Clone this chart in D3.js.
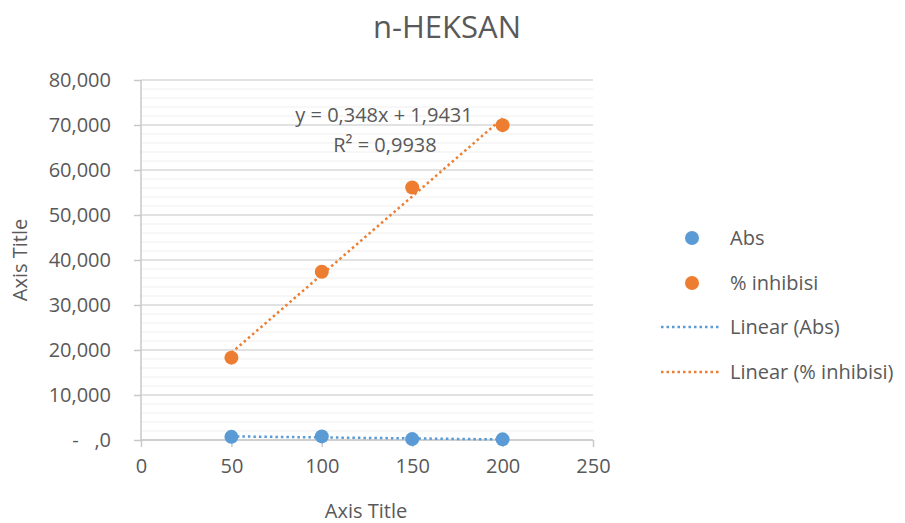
<!DOCTYPE html>
<html>
<head>
<style>
    body { margin: 0; background: #fff; }
    svg { display: block; font-family: "Open Sans", "Noto Sans", sans-serif; }
    .tick text { fill: #595959; font-size: 20px; font-family: "Open Sans", "Noto Sans", sans-serif; white-space: pre; }
</style>
</head>
<body>
<svg width="905" height="523"></svg>
<script src="https://d3js.org/d3.v7.min.js"></script>
<script>
    // data
    var xVals = [50, 100, 150, 200];
    var absVals = [0.7, 0.8, 0.2, 0.15];
    var inhibisiVals = [18.3, 37.4, 56.1, 69.97];
    var xTicks = [0, 50, 100, 150, 200, 250];
    var yTicks = [0, 10, 20, 30, 40, 50, 60, 70, 80];
    var seriesNames = ["Abs", "% inhibisi"];
    var trendNames = ["Linear (Abs)", "Linear (% inhibisi)"];
    var colors = ["#5b9bd5", "#ed7d31"];
    var eqText = ["y = 0,348x + 1,9431", "R\u00b2 = 0,9938"];

    var svg = d3.select("svg");
    var grey = "#595959";

    var x = d3.scaleLinear().domain([0, 250]).range([141, 593]);
    var y = d3.scaleLinear().domain([0, 80]).range([440, 80]);

    // minor + major gridlines
    var minor = d3.range(0, 80.001, 2);
    svg.append("g").selectAll("line").data(minor).enter().append("line")
        .attr("x1", x(0)).attr("x2", x(250))
        .attr("y1", function (d) { return y(d); }).attr("y2", function (d) { return y(d); })
        .attr("stroke", function (d) { return d % 10 === 0 ? "#d9d9d9" : "#efefef"; })
        .attr("stroke-width", function (d) { return d % 10 === 0 ? 1.5 : 1; });

    // axes
    var fmtY = function (d) { return d === 0 ? "-   ,0" : d + ",000"; };
    svg.append("g").attr("transform", "translate(" + x(0) + ",0)")
        .call(d3.axisLeft(y).tickValues(yTicks).tickFormat(fmtY).tickSize(7).tickPadding(23));
    svg.append("g").attr("transform", "translate(0," + y(0) + ")")
        .call(d3.axisBottom(x).tickValues(xTicks).tickSize(7).tickPadding(12));
    svg.selectAll(".domain").remove();
    svg.selectAll(".tick line").attr("stroke", "#c8c8c8").attr("stroke-width", 1.5);
    svg.append("line").attr("x1", x(0)).attr("x2", x(0)).attr("y1", y(80)).attr("y2", y(0))
        .attr("stroke", "#c8c8c8").attr("stroke-width", 1.5);
    svg.append("line").attr("x1", x(0)).attr("x2", x(250)).attr("y1", y(0)).attr("y2", y(0))
        .attr("stroke", "#c8c8c8").attr("stroke-width", 1.5);

    // least squares trend
    function fit(xs, ys) {
        var mx = d3.mean(xs), my = d3.mean(ys);
        var sxy = d3.sum(xs, function (v, i) { return (v - mx) * (ys[i] - my); });
        var sxx = d3.sum(xs, function (v) { return (v - mx) * (v - mx); });
        var m = sxy / sxx;
        return { m: m, b: my - m * mx };
    }

    var series = [absVals, inhibisiVals];
    series.forEach(function (vals, k) {
        var f = fit(xVals, vals);
        var x0 = d3.min(xVals), x1 = d3.max(xVals);
        svg.append("line")
            .attr("x1", x(x0)).attr("y1", y(f.m * x0 + f.b))
            .attr("x2", x(x1)).attr("y2", y(f.m * x1 + f.b))
            .attr("stroke", colors[k]).attr("stroke-width", 2.5)
            .attr("stroke-dasharray", "2.5,3");
    });
    series.forEach(function (vals, k) {
        svg.append("g").selectAll("circle").data(vals).enter().append("circle")
            .attr("cx", function (d, i) { return x(xVals[i]); })
            .attr("cy", function (d) { return y(d); })
            .attr("r", 7).attr("fill", colors[k]);
    });

    // equation label
    svg.append("text").attr("x", 384).attr("y", 122).attr("text-anchor", "middle")
        .attr("fill", grey).attr("font-size", 20).text(eqText[0]);
    svg.append("text").attr("x", 385).attr("y", 152).attr("text-anchor", "middle")
        .attr("fill", grey).attr("font-size", 20).text(eqText[1]);

    // title + axis titles
    svg.append("text").attr("x", 447).attr("y", 38).attr("text-anchor", "middle")
        .attr("fill", grey).attr("font-size", 31).text("n-HEKSAN");
    svg.append("text").attr("x", 366).attr("y", 518).attr("text-anchor", "middle")
        .attr("fill", grey).attr("font-size", 20).text("Axis Title");
    svg.append("text").attr("transform", "translate(27,260) rotate(-90)").attr("text-anchor", "middle")
        .attr("fill", grey).attr("font-size", 20).text("Axis Title");

    // legend
    var lg = svg.append("g");
    var rowsY = [238, 283, 327, 372];
    seriesNames.forEach(function (n, k) {
        lg.append("circle").attr("cx", 692).attr("cy", rowsY[k]).attr("r", 7).attr("fill", colors[k]);
        lg.append("text").attr("x", 730).attr("y", rowsY[k]).attr("dy", "0.35em")
            .attr("fill", grey).attr("font-size", 20).text(n);
    });
    trendNames.forEach(function (n, k) {
        lg.append("line").attr("x1", 661).attr("x2", 720)
            .attr("y1", rowsY[k + 2]).attr("y2", rowsY[k + 2])
            .attr("stroke", colors[k]).attr("stroke-width", 2.5).attr("stroke-dasharray", "2.5,3");
        lg.append("text").attr("x", 730).attr("y", rowsY[k + 2]).attr("dy", "0.35em")
            .attr("fill", grey).attr("font-size", 20).text(n);
    });
</script>
</body>
</html>
